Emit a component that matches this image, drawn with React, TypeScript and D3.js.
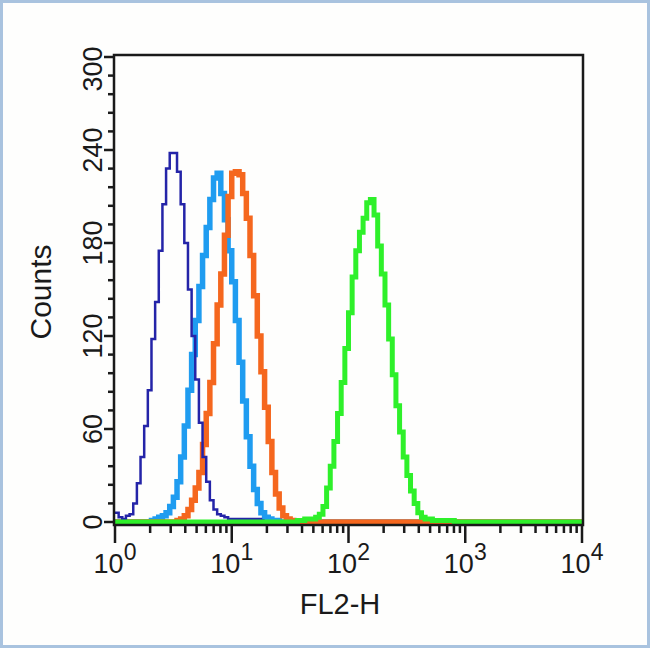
import React from 'react';
import * as d3 from 'd3';

// histogram bins: 32 per decade over 4 decades (128 channels)
const BINS_PER_DECADE = 32;
const N_BINS = 128;

const darkBlueStart = 0;
const darkBlueCounts = [6, 3, 2, 4, 5, 12, 25, 42, 62, 85, 118, 142, 175, 205, 228, 238, 238, 226, 205, 180, 150, 120, 92, 64, 42, 26, 14, 8, 5, 4, 3, 2, 2, 2, 2, 2, 2, 2, 2, 2, 1];

const lightBlueStart = 10;
const lightBlueCounts = [1, 2, 3, 4, 6, 10, 16, 26, 42, 62, 85, 108, 130, 152, 172, 190, 208, 222, 225, 212, 195, 175, 155, 130, 103, 78, 55, 36, 21, 12, 6, 3, 2, 1, 1];

const orangeStart = 17;
const orangeCounts = [1, 2, 4, 8, 14, 22, 32, 50, 70, 90, 115, 140, 160, 185, 210, 225, 226, 224, 212, 196, 172, 146, 120, 97, 74, 52, 32, 18, 9, 4, 2, 1];

const greenStart = 50;
const greenCounts = [1, 1, 2, 2, 2, 3, 5, 10, 22, 36, 52, 70, 90, 112, 135, 158, 175, 187, 196, 206, 208, 198, 178, 160, 140, 118, 95, 75, 58, 42, 30, 20, 12, 6, 3, 2, 2, 1, 1, 1, 1, 1, 1];

const Y_MAJOR = [0, 60, 120, 180, 240, 300];
const X_DECADES = [0, 1, 2, 3, 4];

const W = 650;
const H = 648;
const FONT = '"Liberation Sans", Arial, Helvetica, sans-serif';
const INK = '#1a1a1a';

const x = d3.scaleLog().domain([1, 1e4]).range([115, 582]);
const y = d3.scaleLinear().domain([0, 300]).range([522, 57]);

const binValue = (i: number) => Math.pow(10, i / BINS_PER_DECADE);

// full = pad with zero counts over the whole channel range
function toPoints(start: number, counts: number[], full: boolean): [number, number][] {
  const pts: [number, number][] = [];
  const from = full ? 0 : start;
  const to = full ? N_BINS : start + counts.length;
  for (let i = from; i < to; i++) {
    const k = i - start;
    pts.push([binValue(i), k >= 0 && k < counts.length ? counts[k] : 0]);
  }
  pts.push([binValue(to), pts[pts.length - 1][1]]);
  return pts;
}

const line = d3
  .line<[number, number]>()
  .x((d) => x(d[0]))
  .y((d) => y(d[1]))
  .curve(d3.curveStepAfter);

const SERIES = [
  { key: 'lightBlue', color: '#1f9cf0', width: 5.5, pts: toPoints(lightBlueStart, lightBlueCounts, true) },
  { key: 'orange', color: '#f5671e', width: 5.5, pts: toPoints(orangeStart, orangeCounts, true) },
  { key: 'darkBlue', color: '#2424a8', width: 2.5, pts: toPoints(darkBlueStart, darkBlueCounts, false) },
  { key: 'green', color: '#2ef02a', width: 5, pts: toPoints(greenStart, greenCounts, true) },
];

export default function App() {
  const yMinor = d3.range(0, 301, 12).filter((v) => v % 60 !== 0);
  const xMinor: number[] = [];
  for (let d = 0; d < 4; d++) for (let k = 2; k <= 9; k++) xMinor.push(k * Math.pow(10, d));

  return (
    <>
      <style>{'body{margin:0}'}</style>
      <svg width={W} height={H} style={{ display: 'block' }} fontFamily={FONT}>
        <rect x={1.5} y={1.5} width={W - 3} height={H - 3} fill="#fefefd" stroke="#a9c3df" strokeWidth={3} />

        {SERIES.map((s) => (
          <path key={s.key} d={line(s.pts) ?? ''} fill="none" stroke={s.color} strokeWidth={s.width} strokeLinejoin="miter" />
        ))}

        {/* frame */}
        <rect x={114} y={55} width={469} height={470} fill="none" stroke={INK} strokeWidth={2.5} />

        {/* y axis */}
        {Y_MAJOR.map((v) => (
          <g key={v}>
            <line x1={104} x2={114} y1={y(v)} y2={y(v)} stroke={INK} strokeWidth={2.5} />
            <text
              transform={`translate(102,${v === 300 ? y(v) + 12 : y(v)}) rotate(-90)`}
              textAnchor="middle"
              fontSize={27}
              fill={INK}
            >
              {v}
            </text>
          </g>
        ))}
        {yMinor.map((v) => (
          <line key={v} x1={108} x2={114} y1={y(v)} y2={y(v)} stroke={INK} strokeWidth={2.5} />
        ))}
        <text transform="translate(51,292) rotate(-90)" textAnchor="middle" fontSize={30} fill={INK}>
          Counts
        </text>

        {/* x axis */}
        {xMinor.map((v) => (
          <line key={v} x1={x(v)} x2={x(v)} y1={525} y2={533} stroke={INK} strokeWidth={2.5} />
        ))}
        {X_DECADES.map((d) => (
          <g key={d}>
            <line x1={x(Math.pow(10, d))} x2={x(Math.pow(10, d))} y1={525} y2={543} stroke={INK} strokeWidth={2.5} />
            <text x={x(Math.pow(10, d))} y={573} textAnchor="middle" fontSize={27} fill={INK}>
              10
              <tspan dy={-13} fontSize={23}>
                {d}
              </tspan>
            </text>
          </g>
        ))}
        <text x={340} y={614} textAnchor="middle" fontSize={29} fill={INK}>
          FL2-H
        </text>
      </svg>
    </>
  );
}
